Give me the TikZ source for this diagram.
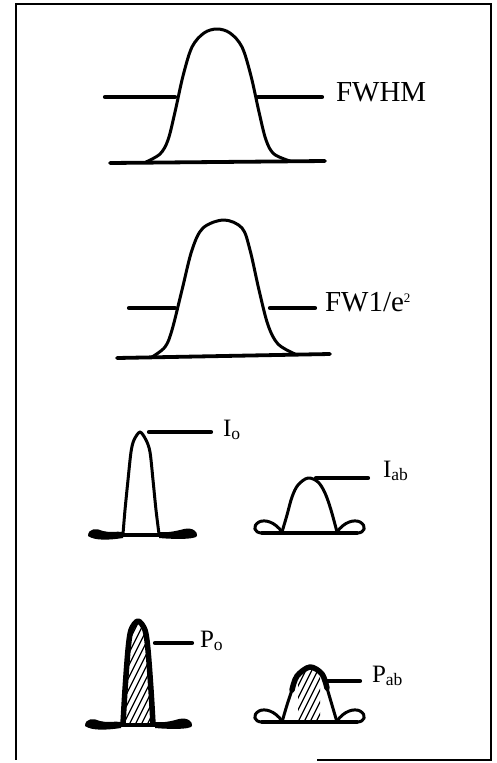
\documentclass[tikz,border=0pt]{standalone}
\usepackage{fontspec}
\setmainfont{Liberation Serif}

\tikzset{
  profile/.style={line width=3pt, line join=round, line cap=round},
  heavy/.style={line width=5.5pt, line join=round, line cap=round},
  lead/.style={line width=4.2pt, line cap=round},
  base/.style={line width=3.8pt, line cap=round},
  hatch/.style={line width=1.3pt},
  tag/.style={anchor=west, inner sep=0pt, outer xsep=14pt,
              font=\fontsize{29}{34}\selectfont},
  smalltag/.style={anchor=west, inner sep=0pt, outer xsep=12pt,
              font=\fontsize{25}{30}\selectfont}
}

\begin{document}
\begin{tikzpicture}[x=1pt, y=-1pt]
  \useasboundingbox (0,0) rectangle (497,763);
  % frame
  \draw[line width=2pt] (317,760) -- (491,760) -- (491,4) -- (16,4) -- (16,760);

  % FWHM profile
  \draw[base] (110,163) -- (325,161);
  \draw[profile] plot[smooth, tension=0.55] coordinates {(146,162) (160,154)
        (168,140) (175,112) (183,76) (192,47) (204,33) (217,29) (230,33)
        (242,47) (251,76) (259,112) (266,140) (274,154) (290,161)};
  \coordinate (hmLo) at (105,97);
  \coordinate (hmL) at (175,97);
  \coordinate (hmR) at (258,97);
  \node[tag] (fwhm) at (322,92) {FWHM};
  \draw[lead] (hmLo) -- (hmL);
  \draw[lead] (hmR) -- (hmR -| fwhm.west);

  % FW 1/e^2 profile
  \draw[base] (117,358) -- (330,354);
  \draw[profile] plot[smooth, tension=0.55] coordinates {(152,357) (165,347)
        (172,330) (182,290) (192,250) (203,228) (224,220) (242,228)
        (250,250) (259,290) (268,325) (278,344) (295,354)};
  \coordinate (e2Lo) at (129,308);
  \coordinate (e2L) at (175,308);
  \coordinate (e2R) at (270,308);
  \node[tag, outer xsep=10pt] (fwe) at (315,302)
        {FW1/e\raisebox{9pt}{\fontsize{13}{13}\selectfont 2}};
  \draw[lead] (e2Lo) -- (e2L);
  \draw[lead] (e2R) -- (e2R -| fwe.west);

  % I_o profile
  \fill (88,536) .. controls (88,528) and (97,528) .. (103,531)
        .. controls (110,533) and (116,531) .. (123,532) -- (123,538)
        .. controls (110,540) and (95,541) .. (88,536) -- cycle;
  \fill (159,532) .. controls (168,533) and (176,531) .. (184,529)
        .. controls (193,527) and (198,532) .. (197,536)
        .. controls (195,540) and (170,539) .. (159,538) -- cycle;
  \draw[base] (123,535) -- (159,535);
  \draw[profile] plot[smooth, tension=0.5] coordinates {(123,534) (125,510)
        (128,480) (131,452) (134,440) (140,432) (146,440) (150,452)
        (153,480) (156,510) (159,534)};
  \coordinate (Io) at (149,432);
  \node[smalltag] (io) at (211,430) {I\textsubscript{o}};
  \draw[lead] (Io) -- (Io -| io.west);

  % I_ab profile
  \draw[profile] (282,532) .. controls (275,522) and (265,519) .. (259,522)
        .. controls (252,526) and (254,533) .. (262,533) -- (282,533);
  \draw[profile] (337,532) .. controls (344,522) and (354,519) .. (360,522)
        .. controls (367,526) and (365,533) .. (357,533) -- (337,533);
  \draw[base] (262,533) -- (357,533);
  \draw[profile] plot[smooth, tension=0.55] coordinates {(282,532) (287,515)
        (292,497) (298,485) (308,478) (318,482) (325,493) (331,510) (337,532)};
  \coordinate (Iab) at (316,478);
  \node[smalltag, outer xsep=15pt] (iab) at (368,471) {I\textsubscript{ab}};
  \draw[lead] (Iab) -- (Iab -| iab.west);

  % P_o profile
  \fill (85,726) .. controls (85,718) and (94,718) .. (100,721)
        .. controls (107,723) and (113,721) .. (121,722) -- (121,728)
        .. controls (107,730) and (92,731) .. (85,726) -- cycle;
  \fill (155,722) .. controls (164,723) and (172,721) .. (179,719)
        .. controls (188,717) and (193,722) .. (192,726)
        .. controls (190,730) and (166,729) .. (155,728) -- cycle;
  \begin{scope}
    \clip plot[smooth, tension=0.5] coordinates {(123,724) (125,690)
          (128,650) (131,630) (138,621) (145,630) (148,650) (151,690)
          (153,724)} -- cycle;
    \foreach \x in {40,46,...,160}
      \draw[hatch] (\x,735) -- ++(60,-120);
  \end{scope}
  \draw[base] (121,725) -- (155,725);
  \draw[heavy] plot[smooth, tension=0.5] coordinates {(123,724) (125,690)
        (128,650) (131,630) (138,621) (145,630) (148,650) (151,690)
        (153,724)};
  \coordinate (Po) at (155,643);
  \node[smalltag, outer xsep=8pt] (po) at (192,641) {P\textsubscript{o}};
  \draw[lead] (Po) -- (Po -| po.west);

  % P_ab profile
  \draw[profile] (282,721) .. controls (275,711) and (265,708) .. (259,711)
        .. controls (252,715) and (254,722) .. (262,722) -- (282,722);
  \draw[profile] (337,721) .. controls (344,711) and (354,708) .. (360,711)
        .. controls (367,715) and (365,722) .. (357,722) -- (337,722);
  \draw[base] (262,722) -- (357,722);
  \begin{scope}
    \clip (298,650) rectangle (320,722);
    \clip plot[smooth, tension=0.55] coordinates {(282,722) (287,705)
          (292,690) (297,676) (310,667) (322,674) (327,688) (332,705)
          (337,722)} -- cycle;
    \foreach \x in {240,246,...,330}
      \draw[hatch] (\x,730) -- ++(40,-80);
  \end{scope}
  \draw[profile] plot[smooth, tension=0.55] coordinates {(282,722) (287,705)
        (292,690)};
  \draw[heavy] plot[smooth, tension=0.55] coordinates {(292,690) (297,676)
        (310,667) (322,674) (327,688)};
  \draw[profile] plot[smooth, tension=0.55] coordinates {(327,688)
        (332,705) (337,722)};
  \coordinate (Pab) at (327,681);
  \node[smalltag] (pab) at (360,676) {P\textsubscript{ab}};
  \draw[lead] (Pab) -- (Pab -| pab.west);
\end{tikzpicture}
\end{document}
